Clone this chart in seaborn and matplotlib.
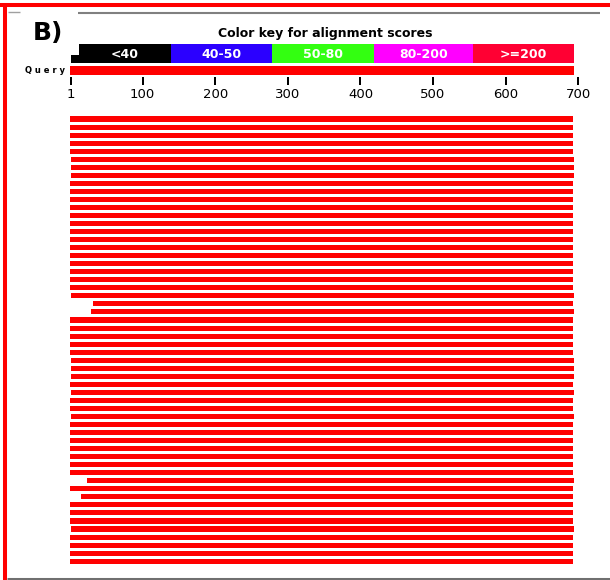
import numpy as np
import matplotlib
matplotlib.use("Agg")
import matplotlib.pyplot as plt
import seaborn as sns

# BLAST graphic summary, panel B
query_len = 694
tick_values = [1, 100, 200, 300, 400, 500, 600, 700]

key_labels = ["<40", "40-50", "50-80", "80-200", ">=200"]
key_colors = ["#000000", "#2b00ff", "#33ff11", "#ff00ff", "#ff0033"]
key_edges = [12, 139, 278, 419, 555, 694]

# hit ranges on the query, one row per subject sequence
hit_start = [
    1, 1, 1, 1, 1, 2, 2, 2, 1, 1,
    1, 1, 1, 1, 1, 1, 1, 1, 1, 1,
    1, 1, 2, 32, 30, 1, 1, 1, 1, 1,
    2, 2, 2, 1, 2, 1, 1, 2, 1, 1,
    1, 1, 1, 1, 1, 25, 1, 16, 1, 1,
    1, 2, 1, 1, 1, 1,
]
hit_end = [
    693, 693, 693, 693, 693, 694, 694, 694, 693, 693,
    693, 693, 693, 693, 693, 693, 693, 693, 693, 693,
    693, 693, 694, 693, 694, 693, 693, 693, 693, 693,
    694, 694, 694, 693, 694, 693, 693, 694, 693, 693,
    693, 693, 693, 693, 693, 694, 693, 693, 693, 693,
    693, 694, 693, 693, 693, 693,
]

W, H = 610, 580


def fx(px):
    return px / W


def fy(py):
    return 1 - py / H


sns.set_style("white")
plt.rcParams['font.family'] = ['DejaVu Sans']
plt.rcParams['text.color'] = 'black'

fig = plt.figure(figsize=(W / 100, H / 100), dpi=100)
fig.patch.set_facecolor("white")

x_scale = 0.7261  # pixels per query position
ax_w = 700 * x_scale

# hits
rows = np.arange(len(hit_start))
ax = fig.add_axes([fx(70), fy(565.2), ax_w / W, 450.2 / H])
starts = np.array(hit_start)
ends = np.array(hit_end)
ax.barh(rows, width=ends - starts + 1, left=starts - 1, height=0.63,
        color="#ff0000", edgecolor="none")
ax.set_xlim(0, 700)
ax.set_ylim(len(hit_start) - 0.5, -0.5)
ax.axis("off")

# colour key, query bar and ruler
hdr = fig.add_axes([fx(70), fy(77), ax_w / W, 33 / H])
hdr.set_xlim(0, 700)
hdr.set_ylim(77, 44)
edges = np.array(key_edges)
hdr.barh(53.65, width=np.diff(edges), left=edges[:-1], height=19.3,
         color=key_colors, edgecolor="none")
hdr.barh(59.15, width=edges[0] - 1, left=1, height=8.3, color="#000000",
         edgecolor="none")
mids = (edges[:-1] + edges[1:]) / 2
for m, lab in zip(mids, key_labels):
    hdr.text(m, 54, lab, ha="center", va="center", color="white",
             fontweight="bold", fontsize=9)
hdr.barh(70.2, width=query_len, left=0, height=9, color="#ff0000",
         edgecolor="none")
for s in hdr.spines.values():
    s.set_visible(False)
hdr.set_facecolor("none")
hdr.set_yticks([])
hdr.set_xticks(tick_values)
hdr.set_xticklabels([str(t) for t in tick_values])
hdr.tick_params(axis="x", direction="out", length=5.8, width=1.44, pad=2,
                labelsize=9.5, colors="black", bottom=True)

fig.text(fx(325.5), fy(34), "Color key for alignment scores", ha="center",
         va="center", fontweight="bold", fontsize=9, color="black")
fig.text(fx(65), fy(70.5), "Q u e r y", ha="right", va="center",
         fontweight="bold", fontsize=6, color="black")
fig.text(fx(48), fy(33), "B)", ha="center", va="center", fontweight="bold",
         fontsize=18, color="black")


def line(xs, ys, color, lw):
    fig.add_artist(plt.Line2D([fx(x) for x in xs], [fy(y) for y in ys],
                              transform=fig.transFigure, color=color,
                              linewidth=lw, solid_capstyle="butt"))


# frame pieces
line([78, 600], [13, 13], "#808080", 1.5)
line([8, 20], [12, 12], "#a0a0a0", 1.0)
line([7, 610], [578.5, 578.5], "#707070", 2.2)
line([0, 610], [5, 5], "#ff0000", 2.9)
line([5.3, 5.3], [3.5, 580], "#ff0000", 2.9)

fig.savefig("out.png", dpi=100)
